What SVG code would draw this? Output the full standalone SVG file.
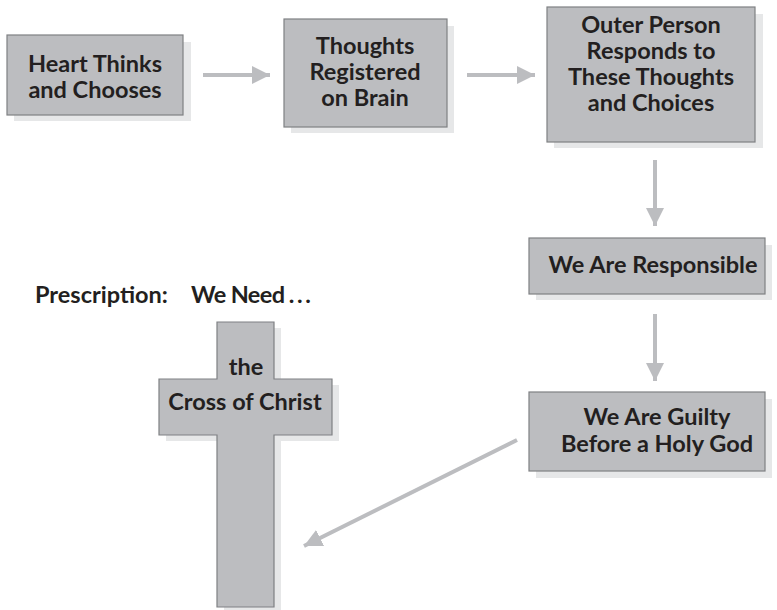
<svg xmlns="http://www.w3.org/2000/svg" width="777" height="610" viewBox="0 0 777 610">
<defs>
<style>
.box{fill:#bcbdc0;stroke:#7f8083;stroke-width:1.2}
.sh{fill:#e6e7e8}
.t{font-family:Lato,"Open Sans",sans-serif;font-weight:bold;font-size:23.5px;fill:#231f20;text-anchor:middle}
.tl{font-family:Lato,"Open Sans",sans-serif;font-weight:bold;font-size:23.5px;fill:#231f20}
.arr{stroke:#bcbdc0;stroke-width:4;fill:none;marker-end:url(#ah)}
</style>
<marker id="ah" viewBox="0 0 10 10" refX="10" refY="5" markerWidth="4.5" markerHeight="4.5" markerUnits="strokeWidth" orient="auto">
<path d="M0,0 L10,5 L0,10 z" fill="#bcbdc0"/>
</marker>
</defs>
<rect width="777" height="610" fill="#ffffff"/>
<g id="connectors">
<line class="arr" x1="203" y1="75" x2="270" y2="75"/>
<line class="arr" x1="467" y1="75" x2="535" y2="75"/>
<line class="arr" x1="655" y1="160" x2="655" y2="226"/>
<line class="arr" x1="655" y1="314" x2="655" y2="381"/>
<line class="arr" x1="517" y1="440" x2="304" y2="546"/>
</g>
<g id="n1">
<rect class="sh" x="14" y="42" width="177" height="79"/>
<rect class="box" x="7" y="35" width="176" height="80"/>
<text class="t" x="95" y="72">Heart Thinks</text>
<text class="t" x="95" y="98">and Chooses</text>
</g>
<g id="n2">
<rect class="sh" x="291" y="26" width="163" height="107"/>
<rect class="box" x="284" y="19" width="163" height="108"/>
<text class="t" x="365" y="54">Thoughts</text>
<text class="t" x="365" y="80">Registered</text>
<text class="t" x="365" y="106">on Brain</text>
</g>
<g id="n3">
<rect class="sh" x="554" y="14" width="209" height="134"/>
<rect class="box" x="547" y="7" width="208" height="135"/>
<text class="t" x="651" y="33">Outer Person</text>
<text class="t" x="651" y="59">Responds to</text>
<text class="t" x="651" y="85">These Thoughts</text>
<text class="t" x="651" y="111">and Choices</text>
</g>
<g id="n4">
<rect class="sh" x="536" y="245" width="236" height="55"/>
<rect class="box" x="529" y="238" width="236" height="56"/>
<text class="t" x="653" y="273">We Are Responsible</text>
</g>
<g id="n5">
<rect class="sh" x="536" y="399" width="236" height="79"/>
<rect class="box" x="529" y="392" width="236" height="79"/>
<text class="t" x="657" y="425">We Are Guilty</text>
<text class="t" x="657" y="452">Before a Holy God</text>
</g>
<g id="label">
<text class="tl" x="35" y="303">Prescription:</text>
<text class="tl" x="191" y="303" letter-spacing="-0.6">We Need<tspan letter-spacing="-1.5"> . . .</tspan></text>
</g>
<g id="cross">
<path class="sh" d="M224,328 H281 V385 H339 V441 H281 V613 H224 V441 H166 V385 H224 Z"/>
<path class="box" d="M217,322 H274 V379 H332 V435 H274 V607 H217 V435 H159 V379 H217 Z"/>
<text class="t" x="246" y="375">the</text>
<text class="t" x="245" y="410">Cross of Christ</text>
</g>
</svg>
